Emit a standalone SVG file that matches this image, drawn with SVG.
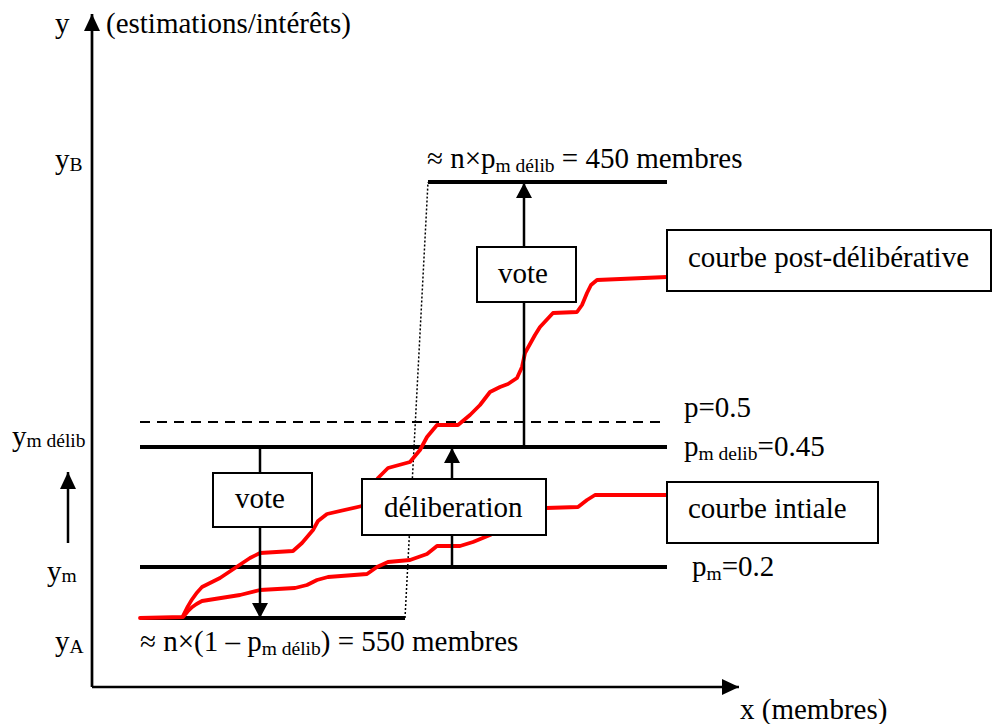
<svg xmlns="http://www.w3.org/2000/svg" width="993" height="724" viewBox="0 0 993 724">
<defs>
<style>
text{font-family:'Liberation Serif','DejaVu Serif',serif;font-size:29px;fill:#000}
.s{font-size:19.5px}
.ax{stroke:#000;stroke-width:2.7;fill:none}
.lv{stroke:#000;stroke-width:4;fill:none}
.cn{stroke:#000;stroke-width:2.5;fill:none}
.red{stroke:#ff0000;stroke-width:3.8;fill:none;stroke-linejoin:round;stroke-linecap:round}
.box{fill:#fff;stroke:#000;stroke-width:2}
</style>
<marker id="big" viewBox="0 0 17 16" refX="17" refY="8" markerWidth="17" markerHeight="16" markerUnits="userSpaceOnUse" orient="auto"><path d="M0,0 L17,8 L0,16 z" fill="#000"/></marker>
<marker id="sm" viewBox="0 0 15 16" refX="15" refY="8" markerWidth="15" markerHeight="16" markerUnits="userSpaceOnUse" orient="auto"><path d="M0,0 L15,8 L0,16 z" fill="#000"/></marker>
</defs>
<rect width="993" height="724" fill="#fff"/>
<g id="axes">
<path class="ax" d="M92,687 L92,14" marker-end="url(#big)"/>
<path class="ax" d="M92,687 L739,687" marker-end="url(#big)"/>
<path class="cn" d="M68,543 L68,472" marker-end="url(#big)"/>
<text x="55" y="33">y</text>
<text x="106" y="33">(estimations/intérêts)</text>
<text x="740" y="719">x (membres)</text>
<text x="55" y="169">y<tspan class="s" dy="2">B</tspan></text>
<text x="12" y="446">y<tspan class="s" dy="1">m délib</tspan></text>
<text x="47" y="581">y<tspan class="s" dy="1">m</tspan></text>
<text x="55" y="651">y<tspan class="s" dy="2">A</tspan></text>
</g>
<g id="levels">
<path class="lv" d="M428,182 L667,182"/>
<path d="M140,422 L665,422" stroke="#000" stroke-width="2" stroke-dasharray="10 7" fill="none"/>
<path class="lv" d="M140,447 L667,447"/>
<path class="lv" d="M140,567 L667,567"/>
<path class="lv" d="M140,618 L405,618"/>
<path d="M405,618 L428,182" stroke="#000" stroke-width="1.5" stroke-dasharray="2 2" fill="none"/>
</g>
<g id="curves">
<path class="red" d="M140,618 L183,617 C190,608 194,605 202,601 L240,595 L260,590 L295,588 L307,585 L317,580 L328,577 L367,574 L377,567 L388,562 L410,560 L427,554 L437,546 L460,546 L473,542 L490,535 L546,508 L578,507 L587,500 L595,495 L667,495"/>
<path class="red" d="M183,616 C188,605 194,595 202,587 L220,578 L235,568 L250,558 L260,553 L293,551 L302,543 L313,530 L318,521 L327,514 L362,506 L378,478 L388,468 L410,462 L420,450 L427,437 L437,425 L458,425 L470,415 L480,405 L490,392 L500,387 L508,384 L517,378 L522,367 L525,353 L535,335 L540,327 L553,313 L577,312 L582,305 L587,293 L591,285 L597,280 L667,277"/>
</g>
<g id="connectors">
<path class="cn" d="M260,447 L260,618" marker-end="url(#sm)"/>
<path class="cn" d="M452,567 L452,448" marker-end="url(#sm)"/>
<path class="cn" d="M524,447 L524,183" marker-end="url(#sm)"/>
</g>
<g id="vote-left">
<rect class="box" x="213" y="473" width="99" height="54"/>
<text x="235" y="508">vote</text>
</g>
<g id="deliberation">
<rect class="box" x="362" y="479" width="184" height="56"/>
<text x="384" y="517">déliberation</text>
</g>
<g id="vote-top">
<rect class="box" x="477" y="247" width="99" height="55"/>
<text x="498" y="283">vote</text>
</g>
<g id="courbe-post">
<rect class="box" x="667" y="230" width="324" height="61"/>
<text x="688" y="267">courbe post-délibérative</text>
</g>
<g id="courbe-initiale">
<rect class="box" x="667" y="482" width="211" height="61"/>
<text x="688" y="518">courbe intiale</text>
</g>
<g id="labels">
<text x="427" y="168">≈ n×p<tspan class="s" dy="4">m délib</tspan><tspan dy="-4"> = 450 membres</tspan></text>
<text x="140" y="651">≈ n×(1 – p<tspan class="s" dy="4">m délib</tspan><tspan dy="-4">) = 550 membres</tspan></text>
<text x="684" y="417">p=0.5</text>
<text x="684" y="456">p<tspan class="s" dy="4">m delib</tspan><tspan dy="-4">=0.45</tspan></text>
<text x="692" y="576">p<tspan class="s" dy="4">m</tspan><tspan dy="-4">=0.2</tspan></text>
</g>
</svg>
